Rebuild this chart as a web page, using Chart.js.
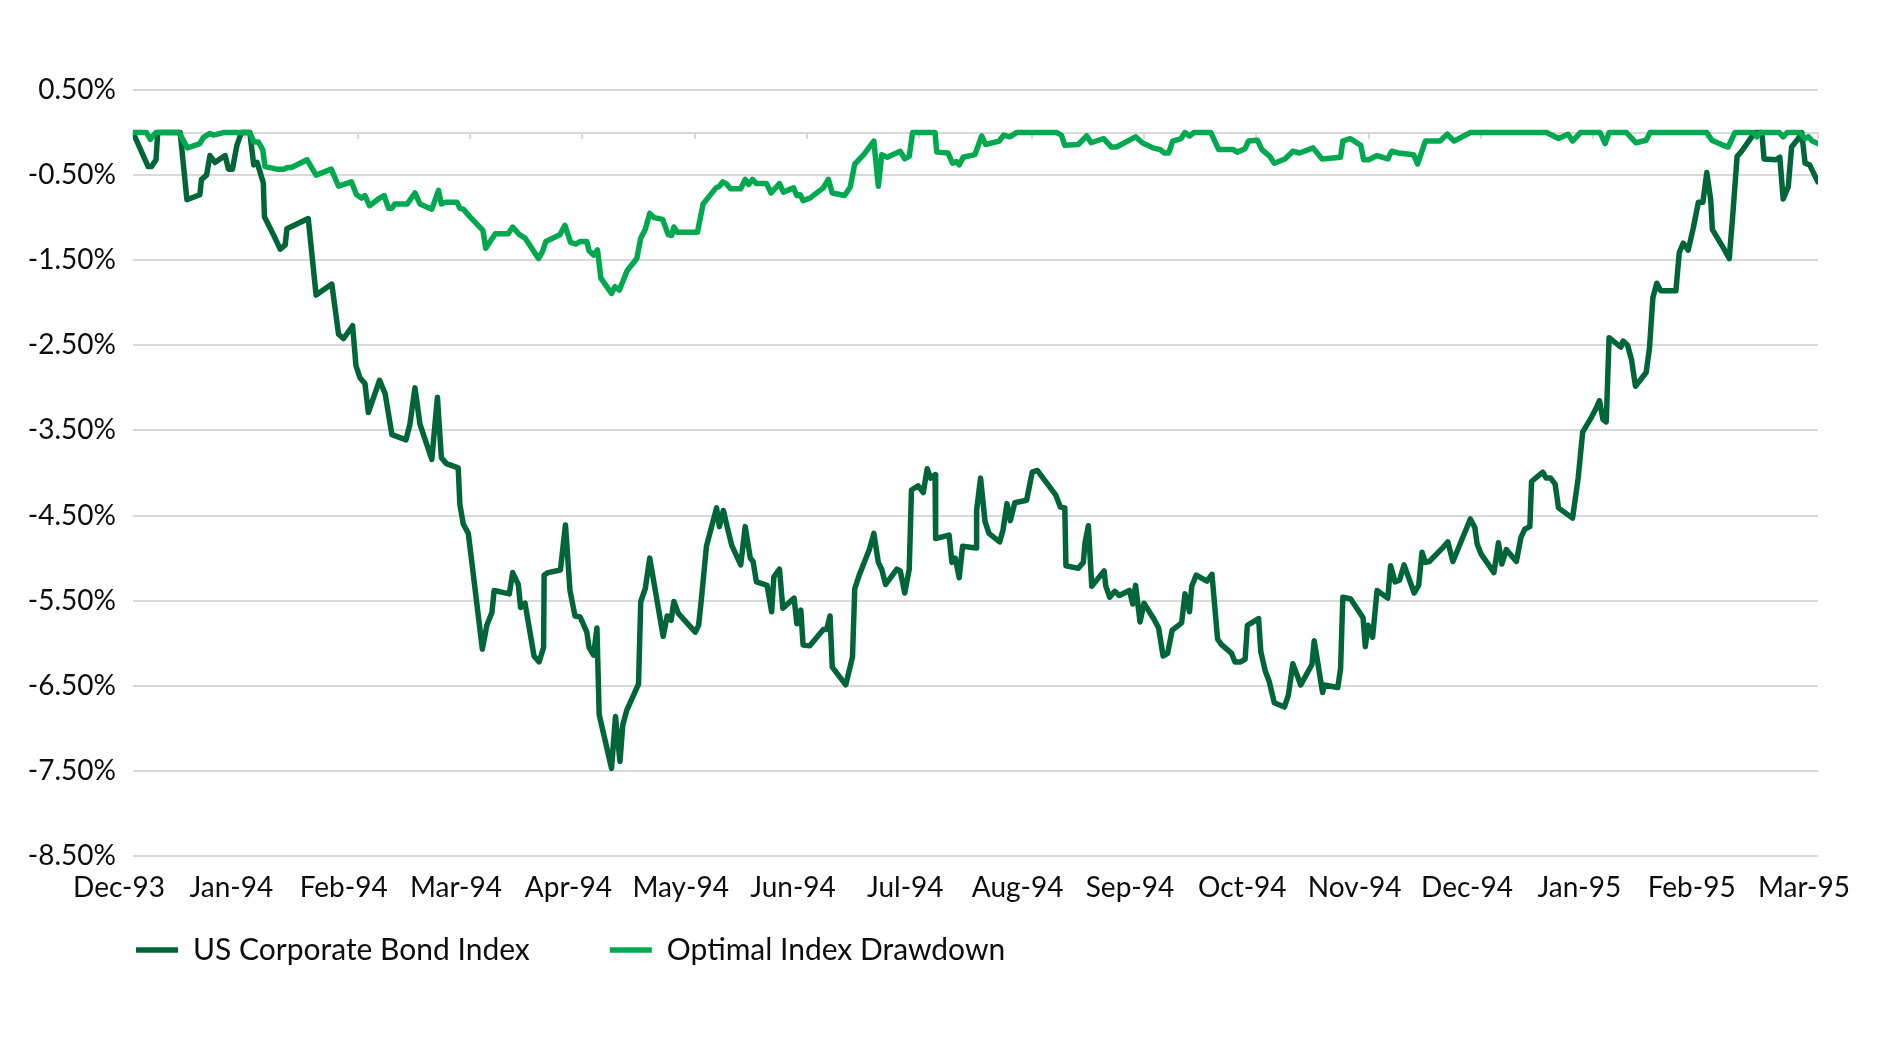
<!DOCTYPE html>
<html>
<head>
<meta charset="utf-8">
<script src="https://cdn.jsdelivr.net/npm/chart.js@4.4.1/dist/chart.umd.min.js"></script>
<style>
html,body{margin:0;padding:0;background:#ffffff;}
#wrap{width:1880px;height:1043px;position:relative;}
canvas{display:block;}
</style>
</head>
<body>
<div id="wrap"><canvas id="c" width="1880" height="1043" style="width:1880px;height:1043px"></canvas></div>
<script>
// x positions are trading-day indices (0 = Dec-93 tick, 300 = Mar-95 tick)
const monthLabels = ['Dec-93','Jan-94','Feb-94','Mar-94','Apr-94','May-94','Jun-94','Jul-94','Aug-94','Sep-94','Oct-94','Nov-94','Dec-94','Jan-95','Feb-95','Mar-95'];
const daysPerLabel = 20;

const corpDays = [0,2.7,3.3,4.1,4.4,8.4,9.6,11.9,12.2,13.1,13.7,14.6,16.4,17.0,17.7,18.5,19.3,20.8,21.5,22.1,23.2,23.4,25.0,26.2,27.1,27.4,31.2,32.6,35.4,36.6,37.5,39.1,39.7,40.4,41.3,41.9,43.9,44.9,46.1,48.6,49.3,50.2,51.1,53.2,54.2,54.9,55.8,57.9,58.2,58.8,59.7,62.2,63.0,63.9,64.3,67.0,67.6,68.6,69.0,69.8,71.4,72.3,73.1,73.2,73.9,76.1,77.0,77.8,78.7,79.6,80.8,81.2,82.0,82.6,83.0,85.2,85.9,86.7,87.2,87.9,90.0,90.4,91.2,92.0,94.4,95.1,95.8,96.3,97.1,100.1,100.7,101.2,102.1,103.9,104.4,105.1,106.0,106.6,108.2,109.0,109.9,110.4,111.0,112.9,113.7,114.1,115.1,115.7,117.7,118.2,118.9,119.3,120.5,122.9,123.5,124.1,124.5,126.9,128.1,128.5,129.3,131.1,131.9,132.7,133.3,134.0,136.0,136.6,137.4,138.2,138.6,139.8,140.7,141.4,142.0,142.8,142.9,145.3,145.8,146.4,147.1,147.7,150.1,150.2,150.9,151.7,152.4,154.3,154.9,155.6,156.2,157.0,159.1,160.1,161.0,164.3,165.1,165.9,166.1,168.3,169.2,169.5,170.1,170.7,172.9,173.2,173.9,174.8,175.6,177.4,178.0,178.5,179.3,180.0,181.7,182.6,183.4,184.2,185.0,186.7,187.3,188.1,188.5,189.3,191.2,192.1,193.1,193.7,195.6,196.2,197.1,198.0,198.4,200.4,200.8,201.6,202.3,203.2,205.0,205.7,206.5,207.9,209.9,210.3,211.8,212.1,214.5,215.0,215.4,216.8,219.0,219.4,219.9,220.7,221.5,223.4,223.9,224.7,225.5,226.3,228.1,228.9,229.5,230.1,230.8,233.3,234.1,235.0,238.1,238.9,239.3,240.0,242.3,243.1,243.7,244.5,246.3,247.1,247.8,248.7,249.0,251.0,251.6,252.4,253.2,253.8,256.3,257.3,258.1,259.7,260.5,261.1,261.7,262.3,262.8,264.9,265.3,266.1,266.8,267.5,269.4,270.0,270.6,271.3,272.0,274.7,275.3,276.0,276.9,277.8,278.7,279.5,280.2,280.9,281.2,283.1,284.2,284.8,285.6,286.4,288.2,288.8,290.0,290.4,292.5,293.2,293.8,294.7,295.3,296.5,297.1,297.7,298.5,300];
const corpValues = [0,-0.40,-0.40,-0.32,0,0,-0.79,-0.73,-0.55,-0.50,-0.27,-0.35,-0.27,-0.43,-0.43,-0.15,0,0,-0.38,-0.35,-0.59,-0.99,-1.20,-1.37,-1.32,-1.13,-1.01,-1.91,-1.78,-2.37,-2.42,-2.27,-2.74,-2.88,-2.95,-3.29,-2.91,-3.07,-3.55,-3.61,-3.43,-3.00,-3.43,-3.84,-3.11,-3.82,-3.89,-3.94,-4.37,-4.60,-4.71,-6.07,-5.79,-5.64,-5.38,-5.42,-5.17,-5.31,-5.58,-5.53,-6.15,-6.22,-6.05,-5.20,-5.17,-5.14,-4.61,-5.38,-5.68,-5.69,-5.87,-6.05,-6.14,-5.82,-6.84,-7.47,-6.86,-7.39,-6.96,-6.79,-6.48,-5.51,-5.36,-5.00,-5.92,-5.68,-5.73,-5.51,-5.65,-5.87,-5.79,-5.48,-4.86,-4.41,-4.63,-4.44,-4.69,-4.85,-5.08,-4.63,-5.00,-5.04,-5.28,-5.32,-5.63,-5.22,-5.13,-5.59,-5.47,-5.77,-5.61,-6.02,-6.03,-5.84,-5.84,-5.68,-6.28,-6.49,-6.16,-5.36,-5.20,-4.90,-4.71,-5.05,-5.13,-5.31,-5.13,-5.15,-5.41,-5.13,-4.20,-4.15,-4.23,-3.95,-4.06,-4.02,-4.77,-4.73,-5.05,-5.00,-5.23,-4.86,-4.88,-4.44,-4.06,-4.57,-4.71,-4.81,-4.67,-4.36,-4.56,-4.35,-4.32,-3.99,-3.97,-4.26,-4.40,-4.41,-5.09,-5.12,-5.05,-4.82,-4.62,-5.33,-5.15,-5.33,-5.46,-5.39,-5.44,-5.38,-5.54,-5.32,-5.75,-5.53,-5.71,-5.82,-6.15,-6.12,-5.85,-5.76,-5.42,-5.63,-5.33,-5.20,-5.27,-5.19,-5.95,-6.01,-6.12,-6.22,-6.22,-6.19,-5.79,-5.71,-6.10,-6.33,-6.45,-6.70,-6.75,-6.61,-6.24,-6.49,-6.25,-5.97,-6.58,-6.49,-6.52,-6.30,-5.46,-5.48,-5.70,-6.04,-5.79,-5.93,-5.38,-5.47,-5.09,-5.28,-5.26,-5.08,-5.41,-5.32,-4.93,-5.05,-5.04,-4.87,-4.81,-5.04,-4.54,-4.64,-4.83,-4.95,-5.17,-4.82,-5.07,-4.90,-5.04,-4.76,-4.66,-4.63,-4.10,-3.99,-4.06,-4.06,-4.13,-4.41,-4.53,-4.06,-3.52,-3.34,-3.24,-3.15,-3.37,-3.40,-2.41,-2.52,-2.45,-2.50,-2.67,-2.98,-2.82,-2.53,-1.94,-1.77,-1.86,-1.86,-1.41,-1.30,-1.38,-1.12,-0.82,-0.82,-0.47,-0.79,-1.14,-1.35,-1.48,-0.99,-0.28,-0.22,-0.05,0,0,-0.31,-0.32,-0.29,-0.78,-0.64,-0.17,-0.07,0,-0.36,-0.38,-0.58];

const optDays = [0,2.4,3.1,4.1,8.2,9.7,11.9,12.5,13.7,14.3,16.1,20.8,21.5,22.3,23.1,23.5,25.6,26.9,27.5,28.2,31.0,32.6,35.3,36.6,38.9,39.8,40.7,41.3,42.1,43.7,44.7,45.5,46.1,46.6,48.8,50.2,51.1,53.2,54.4,54.9,55.6,57.7,58.2,58.8,60.0,62.3,62.8,64.5,66.8,67.6,68.8,69.8,72.2,72.9,73.5,76.0,76.9,77.9,78.9,79.6,80.8,81.2,82.0,82.7,83.3,85.2,85.8,86.6,88.0,89.7,90.4,91.2,92.0,92.8,94.3,95.3,95.9,96.3,96.9,100.5,101.5,103.8,104.4,105.0,105.6,106.4,108.2,109.0,109.6,110.3,111.0,112.8,113.6,115.1,115.8,117.6,118.2,118.8,119.3,120.5,122.9,123.8,124.5,126.7,127.7,128.5,130.1,131.9,132.7,133.3,134.3,136.6,137.4,138.2,138.8,142.8,143.1,145.1,145.9,146.6,147.1,147.8,149.9,151.1,151.8,154.2,155.0,156.1,157.3,164.4,165.3,165.9,168.3,169.8,170.6,172.8,174.2,175.1,178.5,179.7,181.6,182.9,183.6,184.4,185.1,186.6,187.3,188.1,188.9,191.9,193.3,195.9,196.6,198.0,198.6,200.2,201.0,202.4,203.2,205.1,206.5,207.7,210.1,211.7,215.0,215.4,216.7,218.6,219.1,220.0,221.5,223.4,224.1,225.3,228.0,228.7,230.1,232.7,234.0,235.2,238.1,251.7,253.8,255.5,256.3,257.7,261.2,262.1,262.8,265.9,267.6,269.4,270.1,280.2,281.1,283.1,284.0,285.2,288.5,289.1,289.7,293.1,293.8,294.5,296.8,297.7,298.3,299.0,300];
const optValues = [0,0,-0.08,0,0,-0.18,-0.13,-0.06,-0.01,-0.03,0,0,-0.11,-0.11,-0.20,-0.40,-0.43,-0.43,-0.41,-0.41,-0.32,-0.50,-0.43,-0.63,-0.58,-0.73,-0.77,-0.74,-0.86,-0.78,-0.74,-0.89,-0.89,-0.84,-0.84,-0.71,-0.84,-0.90,-0.68,-0.84,-0.82,-0.82,-0.89,-0.90,-0.99,-1.15,-1.36,-1.19,-1.19,-1.11,-1.20,-1.24,-1.48,-1.40,-1.28,-1.20,-1.09,-1.29,-1.31,-1.28,-1.28,-1.39,-1.44,-1.38,-1.71,-1.89,-1.81,-1.85,-1.62,-1.48,-1.24,-1.14,-0.95,-1.00,-1.02,-1.20,-1.21,-1.11,-1.17,-1.17,-0.84,-0.65,-0.63,-0.58,-0.60,-0.66,-0.66,-0.55,-0.61,-0.55,-0.60,-0.60,-0.71,-0.60,-0.70,-0.65,-0.74,-0.73,-0.80,-0.77,-0.65,-0.55,-0.71,-0.74,-0.64,-0.37,-0.26,-0.10,-0.63,-0.26,-0.29,-0.22,-0.31,-0.28,0,0,-0.23,-0.24,-0.36,-0.34,-0.38,-0.29,-0.26,-0.04,-0.14,-0.10,-0.03,-0.05,0,0,-0.03,-0.15,-0.14,-0.04,-0.12,-0.07,-0.17,-0.17,-0.05,-0.12,-0.18,-0.20,-0.24,-0.24,-0.10,-0.07,0,-0.04,0,0,-0.20,-0.20,-0.23,-0.19,-0.10,-0.09,-0.20,-0.28,-0.36,-0.31,-0.22,-0.24,-0.18,-0.31,-0.29,-0.10,-0.07,-0.15,-0.32,-0.32,-0.27,-0.31,-0.22,-0.24,-0.26,-0.37,-0.10,-0.10,-0.02,-0.10,0,0,-0.07,-0.02,-0.10,0,0,-0.13,0,0,-0.12,-0.09,0,0,-0.09,-0.15,-0.17,0,0,-0.05,0,0,-0.05,0,0,-0.07,-0.05,-0.10,-0.13];

const yMin = -8.5, yMax = 0.5, yStep = 1;

const TEXT = '#0d0d0d';
const GRID = '#d9d9d9';
const DARK = '#00663a';
const LIGHT = '#00a84f';
const TICK_FONT = {family: 'Lato', size: 28};
const LEGEND_FONT = {family: 'Lato', size: 30};

// nudges the built-in legend box so its first item lines up under the plot
const legendNudge = {
  id: 'legendNudge',
  afterLayout(chart, args, opts) {
    const lg = chart.legend;
    if (!lg) return;
    lg.left += opts.dx; lg.right += opts.dx;
    lg.top += opts.dy; lg.bottom += opts.dy;
  }
};

new Chart(document.getElementById('c'), {
  type: 'line',
  data: {
    datasets: [
      {
        label: 'US Corporate Bond Index',
        data: corpDays.map((d, i) => ({x: d, y: corpValues[i]})),
        borderColor: DARK, backgroundColor: DARK,
        borderWidth: 5.5, pointRadius: 0, pointHoverRadius: 0, tension: 0,
        borderJoinStyle: 'round', borderCapStyle: 'round',
        xAxisID: 'x', yAxisID: 'y', order: 2
      },
      {
        label: 'Optimal Index Drawdown',
        data: optDays.map((d, i) => ({x: d, y: optValues[i]})),
        borderColor: LIGHT, backgroundColor: LIGHT,
        borderWidth: 5.5, pointRadius: 0, pointHoverRadius: 0, tension: 0,
        borderJoinStyle: 'round', borderCapStyle: 'round',
        xAxisID: 'x', yAxisID: 'y', order: 1
      }
    ]
  },
  plugins: [legendNudge],
  options: {
    responsive: false,
    animation: false,
    events: [],
    layout: {padding: {left: 20, right: 62, top: 90, bottom: 67}},
    plugins: {
      tooltip: {enabled: false},
      legendNudge: {dx: 36, dy: -1},
      legend: {
        position: 'bottom',
        align: 'start',
        labels: {
          usePointStyle: true,
          pointStyle: 'line',
          pointStyleWidth: 42,
          padding: 80,
          color: TEXT,
          font: LEGEND_FONT,
          sort: (a, b) => a.datasetIndex - b.datasetIndex
        }
      }
    },
    scales: {
      x: {
        type: 'linear', min: 0, max: (monthLabels.length - 1) * daysPerLabel, position: {y: yMin},
        grid: {display: false, drawTicks: false}, border: {display: false},
        ticks: {
          stepSize: daysPerLabel, autoSkip: false, maxRotation: 0, minRotation: 0,
          padding: 15, labelOffset: -14, color: TEXT, font: TICK_FONT,
          callback: (v) => monthLabels[Math.round(v / daysPerLabel)] || ''
        }
      },
      xz: {
        type: 'linear', min: 0, max: (monthLabels.length - 1) * daysPerLabel, position: {y: 0},
        grid: {drawOnChartArea: false, drawTicks: true, tickLength: 5, color: GRID, lineWidth: 2},
        border: {display: true, color: GRID, width: 2},
        ticks: {display: false, stepSize: daysPerLabel}
      },
      y: {
        type: 'linear', min: yMin, max: yMax, position: 'left',
        grid: {color: GRID, lineWidth: 2, drawTicks: false},
        border: {display: false},
        ticks: {stepSize: yStep, padding: 17, color: TEXT, font: TICK_FONT, callback: (v) => v.toFixed(2) + '%'},
        afterFit: (s) => { s.width = 113; }
      }
    }
  }
});
</script>
</body>
</html>
